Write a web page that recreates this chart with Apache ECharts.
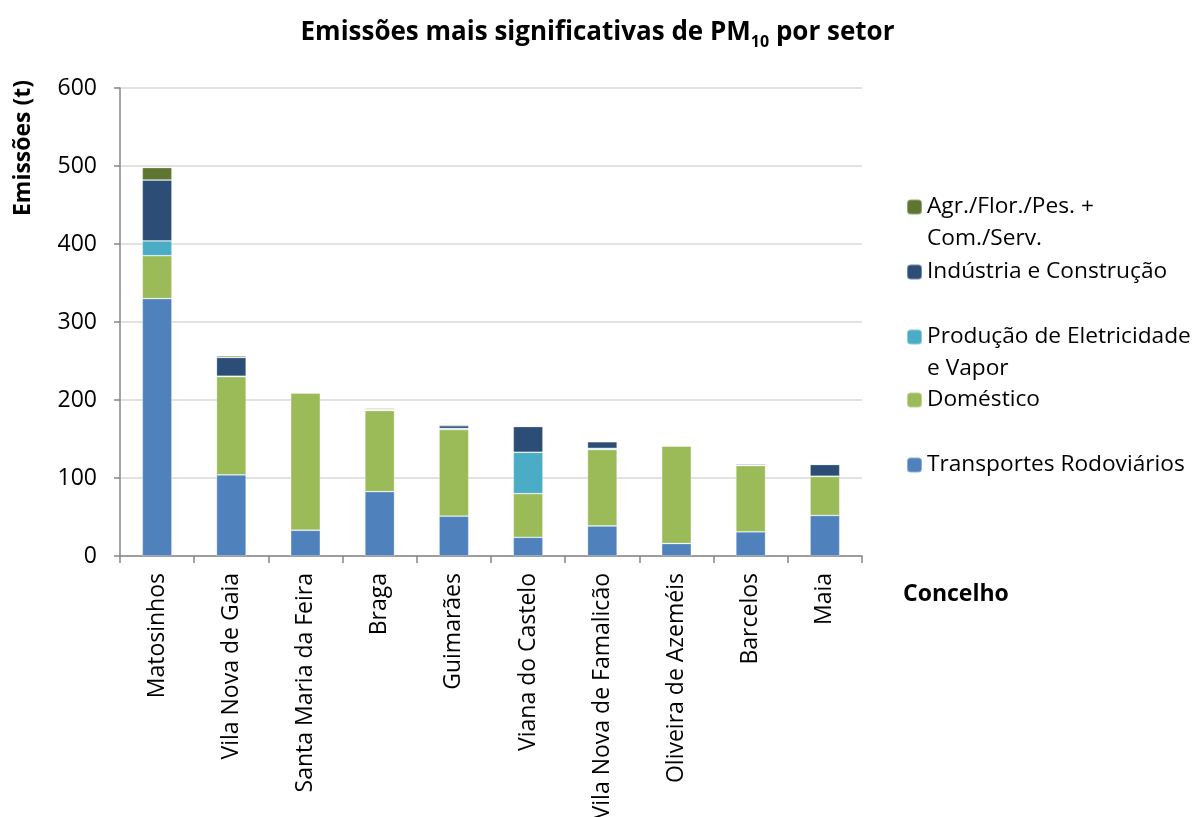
<!DOCTYPE html>
<html>
<head>
<meta charset="utf-8">
<script src="https://cdn.jsdelivr.net/npm/echarts@6/dist/echarts.min.js"></script>
<style>
  html, body { margin: 0; padding: 0; background: #fff; }
  #chart { width: 1195px; height: 817px; }
</style>
</head>
<body>
<div id="chart"></div>
<script>
  // concelhos
  var categories = ['Matosinhos', 'Vila Nova de Gaia', 'Santa Maria da Feira', 'Braga', 'Guimarães',
    'Viana do Castelo', 'Vila Nova de Famalicão', 'Oliveira de Azeméis', 'Barcelos', 'Maia']

  // emissões PM10 (t) por setor
  var transportes = [330, 104, 33, 82.5, 51, 24, 38.5, 16, 31, 52]
  var domestico = [55, 126, 176, 104, 111, 56, 98, 125, 85, 50]
  var producao = [19, 0.5, 1, 0.3, 1.5, 53, 1.5, 0.3, 0.5, 0.3]
  var industria = [78, 24, 1, 1, 3.5, 33, 8.5, 1, 1.5, 15]
  var agricultura = [16, 2, 0.5, 1.5, 1.5, 0.5, 0.5, 0.3, 1, 1]

  var yTicks = [0, 100, 200, 300, 400, 500, 600]

  var font = '"Open Sans", sans-serif'

  var sectors = [
    { name: 'Transportes Rodoviários', data: transportes, color: '#4F81BD' },
    { name: 'Doméstico', data: domestico, color: '#9BBB59' },
    { name: 'Produção de Eletricidade e Vapor', data: producao, color: '#4BACC6' },
    { name: 'Indústria e Construção', data: industria, color: '#2C4D75' },
    { name: 'Agr./Flor./Pes. + Com./Serv.', data: agricultura, color: '#5F7632' }
  ]

  // legend labels, broken as in the original (leading blank line keeps the icon on the first line)
  var legendText = {
    'Agr./Flor./Pes. + Com./Serv.': '\nAgr./Flor./Pes. +\nCom./Serv.',
    'Indústria e Construção': 'Indústria e Construção',
    'Produção de Eletricidade e Vapor': '\nProdução de Eletricidade\ne Vapor',
    'Doméstico': 'Doméstico',
    'Transportes Rodoviários': 'Transportes Rodoviários'
  }
  var legendTop = {
    'Agr./Flor./Pes. + Com./Serv.': 159,
    'Indústria e Construção': 256,
    'Produção de Eletricidade e Vapor': 289,
    'Doméstico': 384,
    'Transportes Rodoviários': 449
  }

  var legends = sectors.slice().reverse().map(function (s) {
    return {
      data: [s.name],
      orient: 'vertical',
      left: 906,
      top: legendTop[s.name],
      padding: 0,
      itemWidth: 15,
      itemHeight: 15,
      formatter: function (n) { return legendText[n] },
      textStyle: { fontFamily: font, fontSize: 22.7, lineHeight: 32, color: '#000' }
    }
  })

  var chart = echarts.init(document.getElementById('chart'))
  chart.setOption({
    animation: false,
    title: {
      text: '{b|Emissões mais significativas de PM}{s|10}{b| por setor}',
      left: 'center',
      top: 11,
      textStyle: {
        rich: {
          b: { fontFamily: font, fontSize: 26, fontWeight: 'bold', color: '#000', lineHeight: 34 },
          s: { fontFamily: font, fontSize: 16, fontWeight: 'bold', color: '#000', lineHeight: 16, verticalAlign: 'bottom' }
        }
      }
    },
    legend: legends,
    grid: { left: 120, right: 333, top: 88, bottom: 261, outerBoundsMode: 'none' },
    xAxis: {
      type: 'category',
      data: categories,
      axisLine: { lineStyle: { color: '#868686', width: 1.5 } },
      axisTick: { show: true, length: 7, lineStyle: { color: '#868686', width: 1.5 } },
      axisLabel: { rotate: 90, margin: 17, fontFamily: font, fontSize: 23, color: '#000' }
    },
    yAxis: {
      type: 'value',
      min: yTicks[0],
      max: yTicks[yTicks.length - 1],
      interval: 100,
      axisLine: { show: true, lineStyle: { color: '#868686', width: 1.5 } },
      axisTick: { show: true, length: 6, lineStyle: { color: '#868686', width: 1.5 } },
      axisLabel: { margin: 23, fontFamily: font, fontSize: 23, color: '#000' },
      splitLine: { lineStyle: { color: '#D9D9D9', width: 1.5 } }
    },
    graphic: [
      {
        type: 'text',
        x: 23, y: 148,
        rotation: Math.PI / 2,
        style: { text: 'Emissões (t)', fontFamily: font, fontSize: 23, fontWeight: 'bold', fill: '#000', align: 'center', verticalAlign: 'middle' }
      },
      {
        type: 'text',
        x: 903, y: 594,
        style: { text: 'Concelho', fontFamily: font, fontSize: 23, fontWeight: 'bold', fill: '#000', align: 'left', verticalAlign: 'middle' }
      }
    ],
    series: sectors.map(function (s) {
      return {
        name: s.name,
        type: 'bar',
        stack: 'total',
        barWidth: '40%',
        data: s.data,
        itemStyle: { color: s.color, borderColor: 'rgba(255,255,255,0.35)', borderWidth: 0.8 }
      }
    })
  })
</script>
</body>
</html>
